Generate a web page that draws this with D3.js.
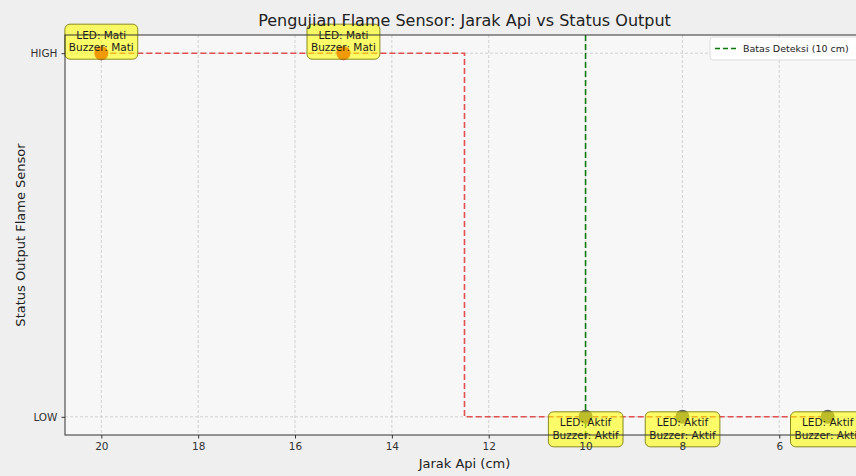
<!DOCTYPE html>
<html>
<head>
<meta charset="utf-8">
<script src="https://cdn.jsdelivr.net/npm/d3@7"></script>
<style>
  body { margin: 0; background: #efefef; }
  svg { display: block; font-family: "DejaVu Sans", sans-serif; }
</style>
</head>
<body>
<svg id="chart" width="856" height="476"></svg>
<script>
// data
const jarak = [20, 15, 10, 8, 5]
const status = [1, 1, 0, 0, 0]
const led = ["Mati", "Mati", "Aktif", "Aktif", "Aktif"]
const buzzer = ["Mati", "Mati", "Aktif", "Aktif", "Aktif"]
const xTicks = [20, 18, 16, 14, 12, 10, 8, 6]
const yTicks = [0, 1]
const yTickLabels = ["LOW", "HIGH"]
const batas = 10

const W = 856, H = 476
const m = {left: 65, right: 864, top: 35, bottom: 435}

const svg = d3.select("#chart")

svg.append("rect").attr("width", W).attr("height", H).attr("fill", "#efefef")

const x = d3.scaleLinear().domain([20.75, 4.25]).range([m.left, m.right])
const y = d3.scaleLinear().domain([-0.05, 1.05]).range([m.bottom, m.top])

// plot background
svg.append("rect")
  .attr("x", m.left).attr("y", m.top)
  .attr("width", m.right - m.left).attr("height", m.bottom - m.top)
  .attr("fill", "#f7f7f7")

// GRID
const grid = svg.append("g")
grid.selectAll(".gx").data(xTicks).join("line")
  .attr("x1", d => x(d)).attr("x2", d => x(d))
  .attr("y1", m.top).attr("y2", m.bottom)
  .attr("stroke", "#c8c8c8").attr("stroke-width", 0.8)
  .attr("stroke-dasharray", "3,2")
grid.selectAll(".gy").data(yTicks).join("line")
  .attr("x1", m.left).attr("x2", m.right)
  .attr("y1", d => y(d)).attr("y2", d => y(d))
  .attr("stroke", "#c8c8c8").attr("stroke-width", 0.8)
  .attr("stroke-dasharray", "3,2")

// step line (steps-mid)
const pts = jarak.map((d, i) => [d, status[i]])
const line = d3.line().x(d => x(d[0])).y(d => y(d[1])).curve(d3.curveStep)
svg.append("path")
  .attr("d", line(pts))
  .attr("fill", "none")
  .attr("stroke", "#e05050")
  .attr("stroke-width", 1.6)
  .attr("stroke-dasharray", "6,3")

// batas deteksi
svg.append("line")
  .attr("x1", x(batas)).attr("x2", x(batas))
  .attr("y1", m.top).attr("y2", m.bottom)
  .attr("stroke", "#0a7a0a").attr("stroke-width", 1.6)
  .attr("stroke-dasharray", "6,3")

// markers
svg.selectAll(".pt").data(pts).join("circle")
  .attr("cx", d => x(d[0])).attr("cy", d => y(d[1]))
  .attr("r", 7)
  .attr("fill", d => d[1] === 1 ? "#e01010" : "#626262")

// annotations
const ann = svg.append("g")
pts.forEach((d, i) => {
  const cx = x(d[0])
  const cy = y(d[1]) + (d[1] === 1 ? -12 : 12)
  const g = ann.append("g")
  const box = g.append("rect")
  const t = g.append("text")
    .attr("text-anchor", "middle")
    .attr("font-size", 10.5)
    .attr("fill", "#1a1a1a")
  t.append("tspan").attr("x", cx).attr("y", cy - 2.5).text("LED: " + led[i])
  t.append("tspan").attr("x", cx).attr("y", cy + 10).text("Buzzer: " + buzzer[i])
  const bb = t.node().getBBox()
  box.attr("x", bb.x - 4).attr("y", cy - 17)
    .attr("width", bb.width + 8).attr("height", 35)
    .attr("rx", 5)
    .attr("fill", "#ffff00").attr("fill-opacity", 0.58)
    .attr("stroke", "#8a8a20").attr("stroke-width", 1)
})

// AXES
const xAxis = svg.append("g")
  .attr("transform", `translate(0,${m.bottom})`)
  .call(d3.axisBottom(x).tickValues(xTicks).tickSize(3.5).tickPadding(4))
const yAxis = svg.append("g")
  .attr("transform", `translate(${m.left},0)`)
  .call(d3.axisLeft(y).tickValues(yTicks).tickFormat((d, i) => yTickLabels[i]).tickSize(3.5).tickPadding(4))
;[xAxis, yAxis].forEach(a => {
  a.select(".domain").remove()
  a.selectAll("text").attr("font-size", 10.5).attr("fill", "#333").attr("font-family", "DejaVu Sans")
  a.selectAll("line").attr("stroke", "#333")
})

// spines
svg.append("rect")
  .attr("x", m.left).attr("y", m.top)
  .attr("width", m.right - m.left).attr("height", m.bottom - m.top)
  .attr("fill", "none").attr("stroke", "#333").attr("stroke-width", 1)

// titles
svg.append("text")
  .attr("x", (m.left + m.right) / 2).attr("y", 26)
  .attr("text-anchor", "middle").attr("font-size", 16).attr("fill", "#222")
  .text("Pengujian Flame Sensor: Jarak Api vs Status Output")
svg.append("text")
  .attr("x", (m.left + m.right) / 2).attr("y", 468)
  .attr("text-anchor", "middle").attr("font-size", 13).attr("fill", "#222")
  .text("Jarak Api (cm)")
svg.append("text")
  .attr("transform", `translate(25,${(m.top + m.bottom) / 2}) rotate(-90)`)
  .attr("text-anchor", "middle").attr("font-size", 13).attr("fill", "#222")
  .text("Status Output Flame Sensor")

// legend
const lg = svg.append("g").attr("transform", "translate(710,37)")
lg.append("rect").attr("width", 152).attr("height", 23).attr("rx", 3)
  .attr("fill", "#ffffff").attr("fill-opacity", 0.85)
  .attr("stroke", "#dddddd")
lg.append("line").attr("x1", 5).attr("x2", 26).attr("y1", 11.5).attr("y2", 11.5)
  .attr("stroke", "#0a7a0a").attr("stroke-width", 1.6).attr("stroke-dasharray", "5,3")
lg.append("text").attr("x", 33).attr("y", 15).attr("font-size", 9.5).attr("fill", "#222")
  .text("Batas Deteksi (10 cm)")
</script>
</body>
</html>
